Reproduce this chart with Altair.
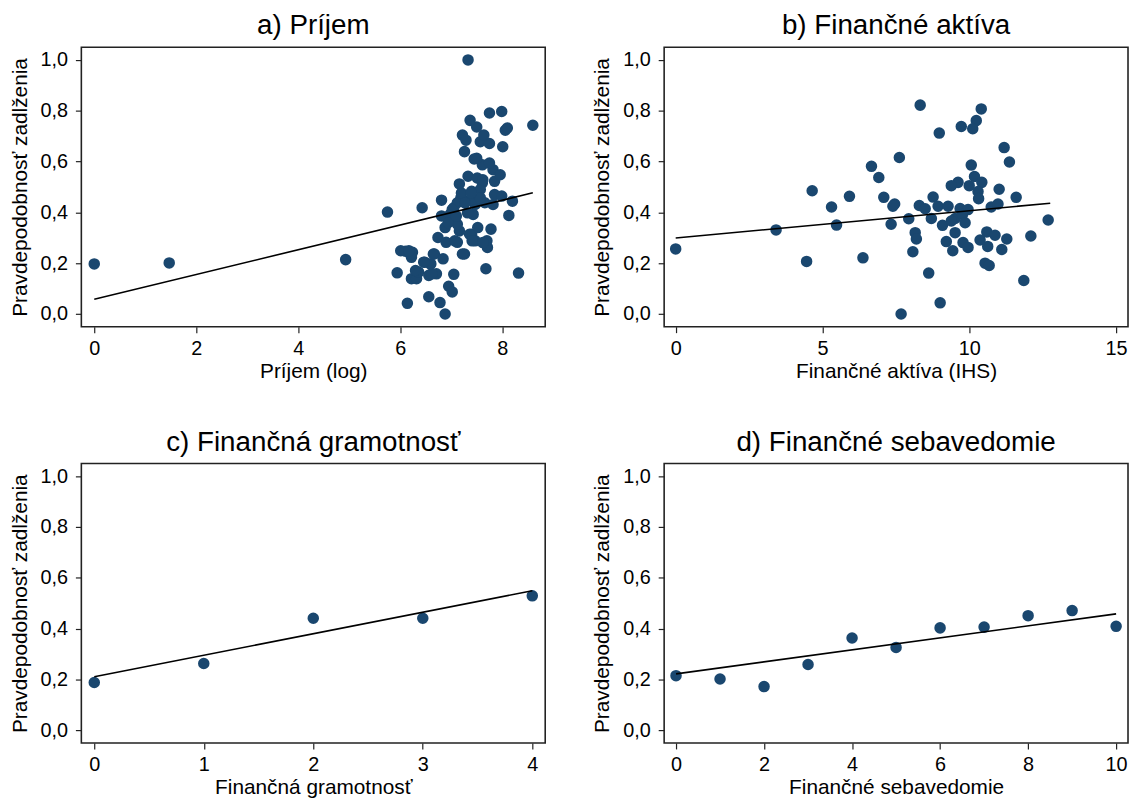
import altair as alt
import pandas as pd

# ---------------- data ----------------
# a) Príjem (log income) vs probability of indebtedness
inc_x = [0.00, 1.47, 4.93, 5.75, 6.43, 6.01, 6.10, 6.24, 6.22, 5.94, 6.22, 6.32, 6.36,
         6.48, 6.60, 6.67, 6.84, 6.81, 6.81, 6.56, 6.71, 6.14, 6.56, 6.78, 6.88, 6.95,
         7.02, 7.05, 6.74, 6.90, 7.12, 7.16, 7.26, 6.98, 7.08, 7.05, 7.16, 7.19, 7.30,
         7.47, 7.43, 7.40, 7.47, 7.52, 7.66, 7.70, 7.71, 7.68, 7.78, 7.82, 7.85, 7.99,
         8.20, 8.13, 8.32, 8.60, 7.33, 7.51, 7.61, 7.85, 7.82, 7.96, 7.61, 7.75, 7.50,
         7.26, 8.01, 7.57, 7.75, 7.22, 7.29, 7.64, 7.50, 7.37, 7.75, 7.99, 8.06, 8.10,
         7.33, 7.40, 7.57, 7.40, 7.12, 6.98, 6.88, 7.12, 7.57, 7.20, 7.39, 7.02, 6.94,
         7.36, 7.07, 7.41, 7.62, 6.62, 6.59, 6.46, 6.65, 6.20, 6.17, 6.30, 7.22, 7.27,
         7.10, 7.32, 7.45, 7.62]
inc_y = [0.197, 0.201, 0.214, 0.401, 0.418, 0.249, 0.247, 0.243, 0.223, 0.162, 0.139, 0.139, 0.165,
         0.204, 0.197, 0.236, 0.217, 0.386, 0.448, 0.152, 0.158, 0.042, 0.068, 0.045, 0.000, 0.109,
         0.087, 0.156, 0.301, 0.282, 0.282, 0.327, 0.236, 0.366, 0.379, 0.418, 0.512, 0.457, 0.444,
         0.431, 0.392, 0.314, 0.288, 0.340, 0.438, 0.288, 0.262, 0.178, 0.334, 0.431, 0.470, 0.464,
         0.444, 0.388, 0.161, 0.743, 0.542, 0.535, 0.516, 0.522, 0.568, 0.548, 0.587, 0.594, 0.613,
         0.639, 0.658, 0.678, 0.671, 0.704, 0.684, 0.704, 0.736, 0.762, 0.791, 0.797, 0.723, 0.732,
         1.000, 0.483, 0.490, 0.451, 0.438, 0.392, 0.340, 0.353, 0.457, 0.476, 0.476, 0.411, 0.359,
         0.314, 0.288, 0.288, 0.281, 0.158, 0.197, 0.204, 0.236, 0.236, 0.249, 0.171, 0.236, 0.437,
         0.385, 0.398, 0.610, 0.528]
inc_fit_x = [0.0, 8.60]
inc_fit_y = [0.058, 0.477]

# b) Finančné aktíva (IHS)
ast_x = [0.00, 3.42, 4.65, 5.31, 5.92, 5.48, 4.46, 8.33, 10.41, 10.24, 9.73, 10.12, 8.98, 11.19,
         7.62, 11.37, 6.67, 10.07, 6.92, 10.18, 9.62, 9.39, 10.43, 10.00, 10.30, 11.02, 10.32,
         11.60, 7.09, 8.77, 7.46, 7.40, 8.30, 8.50, 8.94, 9.28, 9.69, 9.96, 10.75, 10.98, 7.94,
         8.71, 9.52, 9.77, 7.34, 9.09, 9.39, 9.86, 8.16, 8.20, 9.52, 10.60, 10.88, 11.28, 12.10,
         9.22, 9.79, 10.37, 10.63, 9.96, 9.44, 11.11, 8.08, 6.38, 10.54, 10.68, 8.62, 11.86, 9.01,
         7.68, 12.69]
ast_y = [0.256, 0.331, 0.485, 0.421, 0.463, 0.350, 0.207, 0.822, 0.807, 0.761, 0.738, 0.729, 0.712, 0.655,
         0.616, 0.598, 0.581, 0.586, 0.537, 0.541, 0.518, 0.505, 0.518, 0.505, 0.482, 0.491, 0.454,
         0.459, 0.459, 0.460, 0.433, 0.424, 0.427, 0.414, 0.424, 0.424, 0.415, 0.411, 0.421, 0.433, 0.375,
         0.376, 0.376, 0.392, 0.353, 0.349, 0.366, 0.359, 0.320, 0.295, 0.320, 0.323, 0.310, 0.295, 0.307,
         0.285, 0.281, 0.291, 0.266, 0.262, 0.249, 0.254, 0.245, 0.221, 0.200, 0.191, 0.161, 0.132, 0.044,
         0.000, 0.370]
ast_fit_x = [0.0, 12.76]
ast_fit_y = [0.299, 0.436]

# c) Finančná gramotnosť
lit_x = [0, 1, 2, 3, 4]
lit_y = [0.188, 0.263, 0.441, 0.441, 0.529]
lit_fit_x = [0, 4]
lit_fit_y = [0.211, 0.549]

# d) Finančné sebavedomie
conf_x = [0, 1, 2, 3, 4, 5, 6, 7, 8, 9, 10]
conf_y = [0.215, 0.202, 0.172, 0.259, 0.363, 0.326, 0.403, 0.406, 0.451, 0.471, 0.409]
conf_fit_x = [0, 10]
conf_fit_y = [0.222, 0.458]

Y_TITLE = "Pravdepodobnosť zadlženia"
Y_TICKS = [0.0, 0.2, 0.4, 0.6, 0.8, 1.0]
FONT = "Liberation Sans"
DOT = "#1a476f"
W, H = 468, 282


def panel(xs, ys, fx, fy, title, xtitle, xdomain, xticks):
    pts_df = pd.DataFrame({"x": xs, "y": ys})
    fit_df = pd.DataFrame({"x": fx, "y": fy})
    x_enc = alt.X(
        "x:Q",
        scale=alt.Scale(domain=xdomain, nice=False, zero=False),
        axis=alt.Axis(values=xticks, title=xtitle, format="d"),
    )
    y_enc = alt.Y(
        "y:Q",
        scale=alt.Scale(domain=[-0.05, 1.05], nice=False, zero=False),
        axis=alt.Axis(
            values=Y_TICKS,
            title=Y_TITLE,
            labelExpr="replace(format(datum.value, '.1f'), '.', ',')",
        ),
    )
    pts = alt.Chart(pts_df).mark_circle(size=135, color=DOT, opacity=1).encode(x=x_enc, y=y_enc)
    line = alt.Chart(fit_df).mark_line(color="black", strokeWidth=1.6).encode(x="x:Q", y="y:Q")
    return alt.layer(pts, line).properties(
        width=W,
        height=H,
        title=alt.TitleParams(title, fontSize=28, font=FONT, fontWeight="normal",
                              color="black", anchor="middle", offset=7),
    )


pa = panel(inc_x, inc_y, inc_fit_x, inc_fit_y, "a) Príjem", "Príjem (log)",
           [-0.253, 8.843], [0, 2, 4, 6, 8])
pb = panel(ast_x, ast_y, ast_fit_x, ast_fit_y, "b) Finančné aktíva", "Finančné aktíva (IHS)",
           [-0.393, 15.41], [0, 5, 10, 15])
pc = panel(lit_x, lit_y, lit_fit_x, lit_fit_y, "c) Finančná gramotnosť", "Finančná gramotnosť",
           [-0.118, 4.118], [0, 1, 2, 3, 4])
pd_ = panel(conf_x, conf_y, conf_fit_x, conf_fit_y, "d) Finančné sebavedomie", "Finančné sebavedomie",
            [-0.27, 10.27], [0, 2, 4, 6, 8, 10])

chart = alt.vconcat(
    alt.hconcat(pa, pb, spacing=45),
    alt.hconcat(pc, pd_, spacing=45),
    spacing=46,
).properties(padding=0, background="white").configure_view(
    stroke="#222222", strokeWidth=1.6
).configure_axis(
    grid=False,
    domain=False,
    ticks=True,
    tickColor="#222222",
    tickSize=6,
    tickWidth=1.2,
    labelFont=FONT,
    labelFontSize=20,
    labelColor="black",
    labelPadding=6,
    labelFlush=False,
    titleFont=FONT,
    titleFontSize=21,
    titleFontWeight="normal",
    titleColor="black",
).configure_axisY(
    labelPadding=8,
    titlePadding=10,
).configure_axisX(
    titlePadding=2,
)

chart.save("out.html", embed_options={"renderer": "svg", "actions": False})
